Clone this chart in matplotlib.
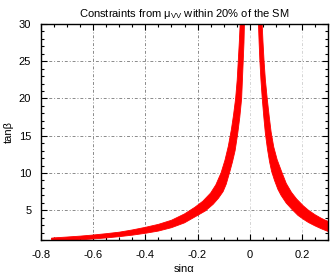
import matplotlib
matplotlib.use("Agg")
import matplotlib.pyplot as plt
from matplotlib.ticker import MultipleLocator, FixedLocator

plt.rcParams['font.family'] = ['Liberation Sans', 'DejaVu Sans']

# Band edges: (sin alpha, tan beta)
left_outer_x = [-0.76, -0.745, -0.70, -0.65, -0.60, -0.55, -0.50, -0.45, -0.40, -0.35, -0.30, -0.25,
                -0.21, -0.18, -0.15, -0.13, -0.11, -0.095, -0.082, -0.07, -0.062, -0.054, -0.048,
                -0.044, -0.040, -0.036]
left_outer_t = [1.25, 1.3, 1.4, 1.52, 1.67, 1.85, 2.05, 2.35, 2.7, 3.1, 3.65, 4.5,
                5.4, 6.2, 7.3, 8.4, 10.0, 11.7, 13.6, 15.9, 17.8, 20.0, 22.5,
                25.0, 27.5, 30.5]
left_inner_x = [-0.020, -0.022, -0.025, -0.028, -0.031, -0.038, -0.046, -0.056, -0.066, -0.076,
                -0.09, -0.102, -0.12, -0.14, -0.17, -0.21, -0.25, -0.30, -0.35, -0.40, -0.45,
                -0.50, -0.55, -0.60, -0.65, -0.70, -0.76]
left_inner_t = [30.5, 27.5, 25.0, 22.5, 20.0, 17.5, 15.3, 13.0, 11.5, 10.2,
                8.5, 7.5, 6.6, 5.8, 4.9, 4.1, 3.3, 2.65, 2.2, 1.9, 1.65,
                1.45, 1.28, 1.14, 1.02, 0.92, 0.85]

right_inner_x = [0.033, 0.036, 0.039, 0.043, 0.048, 0.054, 0.060, 0.068, 0.076, 0.084, 0.095,
                 0.108, 0.12, 0.14, 0.165, 0.185, 0.205, 0.225, 0.25, 0.275, 0.30, 0.31]
right_inner_t = [30.5, 27.5, 25.0, 22.5, 20.0, 17.5, 15.3, 13.2, 11.5, 10.2, 9.0,
                 7.8, 7.0, 5.95, 5.0, 4.3, 3.8, 3.35, 2.9, 2.5, 2.15, 2.05]
right_outer_x = [0.047, 0.051, 0.055, 0.060, 0.067, 0.075, 0.082, 0.092, 0.105, 0.122, 0.14,
                 0.16, 0.18, 0.205, 0.225, 0.25, 0.275, 0.30, 0.31]
right_outer_t = [30.5, 27.5, 25.0, 22.5, 20.0, 17.5, 15.5, 13.5, 11.8, 10.2, 8.6,
                 7.4, 6.5, 5.6, 5.0, 4.4, 3.9, 3.5, 3.4]

x_ticks = [-0.8, -0.6, -0.4, -0.2, 0.0, 0.2]
x_labels = ['-0.8', '-0.6', '-0.4', '-0.2', '0', '0.2']
y_ticks = [5, 10, 15, 20, 25, 30]
y_labels = ['5', '10', '15', '20', '25', '30']

fig = plt.figure(figsize=(3.32, 2.76), dpi=100)
ax = fig.add_axes([41/332, 1 - 240/276, 287/332, 216/276])

ax.set_xlim(-0.8, 0.3)
ax.set_ylim(1, 30)

# grid
dash = (0, (3, 2, 1, 2))
for xv in x_ticks[1:]:
    col = '#8a8a8a' if xv < -0.1 else '#d4d4d4'
    ax.axvline(xv, color=col, lw=0.7, ls=dash, zorder=1)
for yv in y_ticks:
    ax.axhline(yv, color='#8a8a8a', lw=0.7, ls=dash, zorder=1)

red = '#ff0000'
ax.fill(left_outer_x + left_inner_x, left_outer_t + left_inner_t,
        color=red, lw=0.6, ec=red, zorder=2)
ax.fill(right_inner_x + right_outer_x[::-1], right_inner_t + right_outer_t[::-1],
        color=red, lw=0.6, ec=red, zorder=2)

ax.xaxis.set_major_locator(FixedLocator(x_ticks))
ax.set_xticklabels(x_labels)
ax.yaxis.set_major_locator(FixedLocator(y_ticks))
ax.set_yticklabels(y_labels)
ax.xaxis.set_minor_locator(MultipleLocator(0.05))
ax.yaxis.set_minor_locator(MultipleLocator(1))
ax.tick_params(which='both', direction='in', top=True, right=True, labelsize=8, colors='black')
ax.tick_params(which='major', length=4.5, width=0.8, pad=7)
ax.tick_params(which='minor', length=2.5, width=0.8)
for s in ax.spines.values():
    s.set_linewidth(1.0)
    s.set_zorder(5)

ax.set_title(r'Constraints from $\mathregular{\mu_{VV}}$ within 20% of the SM', fontsize=8, pad=5)
ax.set_xlabel('sinα', fontsize=8, labelpad=3)
ax.set_ylabel('tanβ', fontsize=8, labelpad=4)

fig.savefig('out.png', dpi=100)
